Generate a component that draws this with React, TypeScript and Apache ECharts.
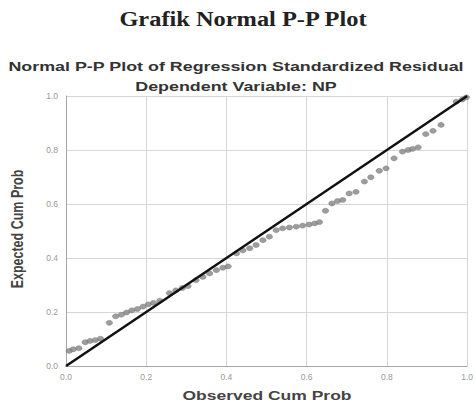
import React, { useEffect, useRef } from "react";
import * as echarts from "echarts";

const observedCumProb = [
  0.008, 0.018, 0.032, 0.048, 0.06, 0.073, 0.086, 0.108, 0.124, 0.138, 0.151, 0.164,
  0.178, 0.192, 0.205, 0.218, 0.234, 0.258, 0.274, 0.29, 0.304, 0.324, 0.341, 0.358,
  0.375, 0.391, 0.404, 0.425, 0.441, 0.458, 0.474, 0.491, 0.507, 0.524, 0.54, 0.557,
  0.574, 0.59, 0.606, 0.62, 0.632, 0.647, 0.663, 0.677, 0.69, 0.706, 0.723, 0.744,
  0.76, 0.781, 0.798, 0.818, 0.839, 0.853, 0.864, 0.878, 0.897, 0.915, 0.935, 0.973,
  0.988, 0.998,
];
const expectedCumProb = [
  0.056, 0.062, 0.066, 0.088, 0.093, 0.096, 0.101, 0.16, 0.184, 0.19, 0.198, 0.206,
  0.211, 0.22, 0.228, 0.234, 0.242, 0.27, 0.28, 0.289, 0.296, 0.318, 0.33, 0.343,
  0.355, 0.364, 0.369, 0.417, 0.428, 0.436, 0.448, 0.466, 0.479, 0.503, 0.51, 0.513,
  0.516, 0.52, 0.524, 0.528, 0.533, 0.575, 0.602, 0.611, 0.615, 0.639, 0.645, 0.683,
  0.699, 0.723, 0.732, 0.769, 0.794, 0.8, 0.804, 0.81, 0.859, 0.871, 0.893, 0.979,
  0.987, 0.995,
];
const referenceLine = [
  [0, 0],
  [1, 1],
];
const tickLabels = ["0.0", "0.2", "0.4", "0.6", "0.8", "1.0"];

const mainTitle = "Grafik Normal P-P Plot";
const subTitle = "Normal P-P Plot of Regression Standardized Residual";
const subTitle2 = "Dependent Variable: NP";
const xName = "Observed Cum Prob";
const yName = "Expected Cum Prob";

export default function App() {
  const ref = useRef<HTMLDivElement>(null);
  useEffect(() => {
    if (!ref.current) return;
    const chart = echarts.init(ref.current, undefined, { renderer: "svg" });
    const sans = "'Liberation Sans', Arial, sans-serif";
    const points = observedCumProb.map((x, i) => [x, expectedCumProb[i]]);
    const fmt = (v: number) => tickLabels[Math.round(v / 0.2)] ?? "";
    chart.setOption({
      animation: false,
      backgroundColor: "#ffffff",
      grid: { left: 66, right: 8, top: 96, bottom: 37, containLabel: false },
      xAxis: {
        type: "value",
        min: 0,
        max: 1,
        interval: 0.2,
        axisLine: { show: true, lineStyle: { color: "#a6a6a6", width: 1 } },
        axisTick: { show: false },
        axisLabel: { formatter: fmt, color: "#999999", fontSize: 8.5, margin: 6, fontFamily: sans },
        splitLine: { show: true, lineStyle: { color: "#d6d6d6", width: 1 } },
      },
      yAxis: {
        type: "value",
        min: 0,
        max: 1,
        interval: 0.2,
        axisLine: { show: true, lineStyle: { color: "#a6a6a6", width: 1 } },
        axisTick: { show: false },
        axisLabel: { formatter: fmt, color: "#999999", fontSize: 8.5, margin: 8, fontFamily: sans },
        splitLine: { show: true, lineStyle: { color: "#d6d6d6", width: 1 } },
      },
      series: [
        {
          type: "scatter",
          data: points,
          symbol: "circle",
          symbolSize: [6.5, 5],
          itemStyle: { color: "#858585", borderColor: "#707070", borderWidth: 0.5 },
          z: 2,
        },
        {
          type: "line",
          data: referenceLine,
          symbol: "none",
          lineStyle: { color: "#111111", width: 2.5 },
          z: 3,
        },
      ],
      graphic: [
        {
          type: "text",
          x: 243,
          y: 19,
          scaleX: 1.22,
          style: {
            text: mainTitle,
            font: "bold 20px 'Liberation Serif', 'Times New Roman', serif",
            fill: "#222",
            textAlign: "center",
            textVerticalAlign: "middle",
          },
        },
        {
          type: "text",
          x: 236,
          y: 67,
          scaleX: 1.43,
          style: {
            text: subTitle,
            font: `bold 12.5px ${sans}`,
            fill: "#333",
            textAlign: "center",
            textVerticalAlign: "middle",
          },
        },
        {
          type: "text",
          x: 236,
          y: 87,
          scaleX: 1.43,
          style: {
            text: subTitle2,
            font: `bold 12.5px ${sans}`,
            fill: "#333",
            textAlign: "center",
            textVerticalAlign: "middle",
          },
        },
        {
          type: "text",
          x: 267,
          y: 395,
          scaleX: 1.4,
          style: {
            text: xName,
            font: `bold 12.5px ${sans}`,
            fill: "#444",
            textAlign: "center",
            textVerticalAlign: "middle",
          },
        },
        {
          type: "text",
          x: 17,
          y: 229,
          rotation: Math.PI / 2,
          scaleY: 1.3,
          style: {
            text: yName,
            font: `bold 12.5px ${sans}`,
            fill: "#444",
            textAlign: "center",
            textVerticalAlign: "middle",
          },
        },
      ],
    });
    return () => chart.dispose();
  }, []);
  return (
    <div
      ref={ref}
      style={{ position: "absolute", left: 0, top: 0, width: 476, height: 403 }}
    />
  );
}
